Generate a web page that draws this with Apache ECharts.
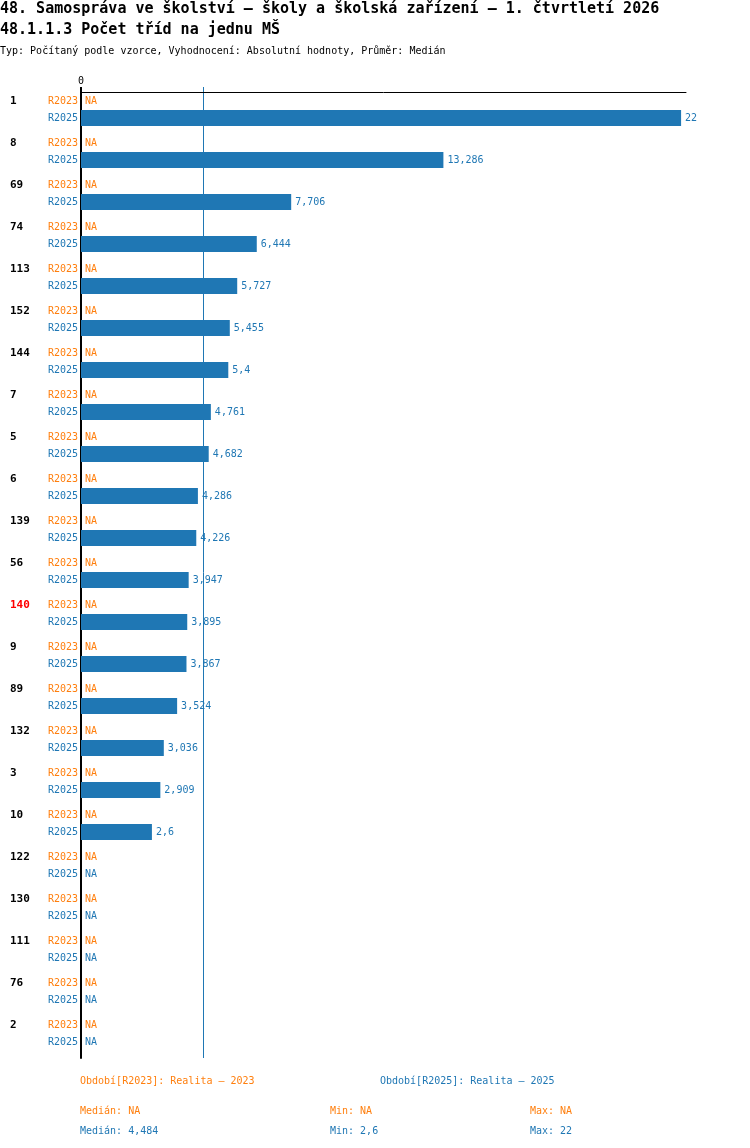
<!DOCTYPE html>
<html lang="cs">
<head>
  <meta charset="UTF-8">
  <title>48.1.1.3 Počet tříd na jednu MŠ</title>
  <style>
    html, body { margin: 0; padding: 0; background: #fff; }
    #chart { width: 750px; height: 1148px; }
  </style>
</head>
<body>
  <div id="chart"></div>
  <script src="https://cdn.jsdelivr.net/npm/echarts@6/dist/echarts.min.js"></script>
  <script>
    // data (null = NA)
    const categories = ['1', '8', '69', '74', '113', '152', '144', '7', '5', '6', '139', '56',
      '140', '9', '89', '132', '3', '10', '122', '130', '111', '76', '2']
    const r2023 = [null, null, null, null, null, null, null, null, null, null, null, null,
      null, null, null, null, null, null, null, null, null, null, null]
    const r2025 = [22, 13.286, 7.706, 6.444, 5.727, 5.455, 5.4, 4.761, 4.682, 4.286, 4.226, 3.947,
      3.895, 3.867, 3.524, 3.036, 2.909, 2.6, null, null, null, null, null]
    const highlighted = '140'
    const periods = ['R2023', 'R2025']
    const periodNames = ['Realita – 2023', 'Realita – 2025']

    const ORANGE = '#ff7f0e'
    const BLUE = '#1f77b4'
    const FONT = 'DejaVu Sans Mono'

    function fmt(v) {
      return v == null ? 'NA' : String(v).replace('.', ',')
    }
    function stats(arr) {
      const vals = arr.filter(v => v != null).sort((a, b) => a - b)
      if (!vals.length) return { med: null, min: null, max: null }
      const n = vals.length
      const med = n % 2 ? vals[(n - 1) / 2] : (vals[n / 2 - 1] + vals[n / 2]) / 2
      return { med: Math.round(med * 1000) / 1000, min: vals[0], max: vals[n - 1] }
    }
    // null -> zero-length bar with an NA label
    function toBars(arr) {
      return arr.map(v => v == null ? { value: 0, label: { formatter: 'NA' } } : v)
    }
    function txt(text, left, top, color, size, weight) {
      return { text: text, left: left, top: top, padding: 0,
        textStyle: { fontFamily: FONT, fontSize: size || 10, fontWeight: weight || 'normal', color: color } }
    }

    const s23 = stats(r2023)
    const s25 = stats(r2025)

    const chart = echarts.init(document.getElementById('chart'))

    const option = {
      animation: false,
      textStyle: { fontFamily: FONT },
      title: [
        txt('48. Samospráva ve školství – školy a školská zařízení – 1. čtvrtletí 2026', 0, 2, '#000', 15, 'bold'),
        txt('48.1.1.3 Počet tříd na jednu MŠ', 0, 23, '#000', 15, 'bold'),
        txt('Typ: Počítaný podle vzorce, Vyhodnocení: Absolutní hodnoty, Průměr: Medián', 0, 46, '#000'),
        txt('Období[' + periods[0] + ']: ' + periodNames[0], 80, 1076, ORANGE),
        txt('Období[' + periods[1] + ']: ' + periodNames[1], 380, 1076, BLUE),
        txt('Medián: ' + fmt(s23.med), 80, 1106, ORANGE),
        txt('Min: ' + fmt(s23.min), 330, 1106, ORANGE),
        txt('Max: ' + fmt(s23.max), 530, 1106, ORANGE),
        txt('Medián: ' + fmt(s25.med), 80, 1126, BLUE),
        txt('Min: ' + fmt(s25.min), 330, 1126, BLUE),
        txt('Max: ' + fmt(s25.max), 530, 1126, BLUE)
      ],
      grid: { left: 81, right: 64, top: 92, bottom: 90, containLabel: false },
      xAxis: {
        type: 'value',
        position: 'top',
        min: 0,
        max: 22.18,
        splitLine: { show: false },
        axisTick: { show: false },
        axisLine: { show: true, lineStyle: { color: '#000', width: 1 } },
        axisLabel: {
          margin: 6, color: '#000', fontFamily: FONT, fontSize: 10,
          formatter: v => v === 0 ? '0' : ''
        }
      },
      yAxis: {
        type: 'category',
        inverse: true,
        data: categories,
        axisTick: { show: false },
        axisLine: { show: true, lineStyle: { color: '#000', width: 2 } },
        axisLabel: {
          interval: 0,
          margin: 3,
          formatter: c => '{' + (c === highlighted ? 'numRed' : 'num') + '|' + c + '}{r23|' + periods[0] + '}\n{r25|' + periods[1] + '}\n{pad| }',
          rich: {
            num: { width: 38, align: 'left', fontFamily: FONT, fontSize: 11, fontWeight: 'bold', color: '#000', lineHeight: 17 },
            numRed: { width: 38, align: 'left', fontFamily: FONT, fontSize: 11, fontWeight: 'bold', color: '#ff0000', lineHeight: 17 },
            r23: { fontFamily: FONT, fontSize: 10, color: ORANGE, lineHeight: 17 },
            r25: { fontFamily: FONT, fontSize: 10, color: BLUE, lineHeight: 17 },
            pad: { fontSize: 6, lineHeight: 7 }
          }
        }
      },
      series: [
        {
          name: periods[0],
          type: 'bar',
          barWidth: 16,
          barGap: '6.25%',
          data: toBars(r2023),
          itemStyle: { color: ORANGE },
          label: { show: true, position: 'right', distance: 4, color: ORANGE, fontFamily: FONT, fontSize: 10,
            formatter: p => fmt(p.value) }
        },
        {
          name: periods[1],
          type: 'bar',
          barWidth: 16,
          barGap: '6.25%',
          data: toBars(r2025),
          itemStyle: { color: BLUE },
          label: { show: true, position: 'right', distance: 4, color: BLUE, fontFamily: FONT, fontSize: 10,
            formatter: p => fmt(p.value) }
        },
        {
          // empty spacer, keeps the two bars at the top of each row
          name: 'spacer',
          type: 'bar',
          barWidth: 6,
          barGap: '6.25%',
          data: categories.map(() => null)
        }
      ]
    }
    chart.setOption(option)

    // median line (through the x scale) and the axis stub above the top axis
    const x0 = chart.convertToPixel({ xAxisIndex: 0 }, 0)
    const xm = Math.floor(chart.convertToPixel({ xAxisIndex: 0 }, s25.med)) + 0.5
    chart.setOption({
      graphic: [
        { type: 'line', shape: { x1: x0, y1: 87, x2: x0, y2: 92 }, style: { stroke: '#000', lineWidth: 2 } },
        { type: 'line', shape: { x1: xm, y1: 87, x2: xm, y2: 1058 }, style: { stroke: BLUE, lineWidth: 1 } }
      ]
    })
  </script>
</body>
</html>
